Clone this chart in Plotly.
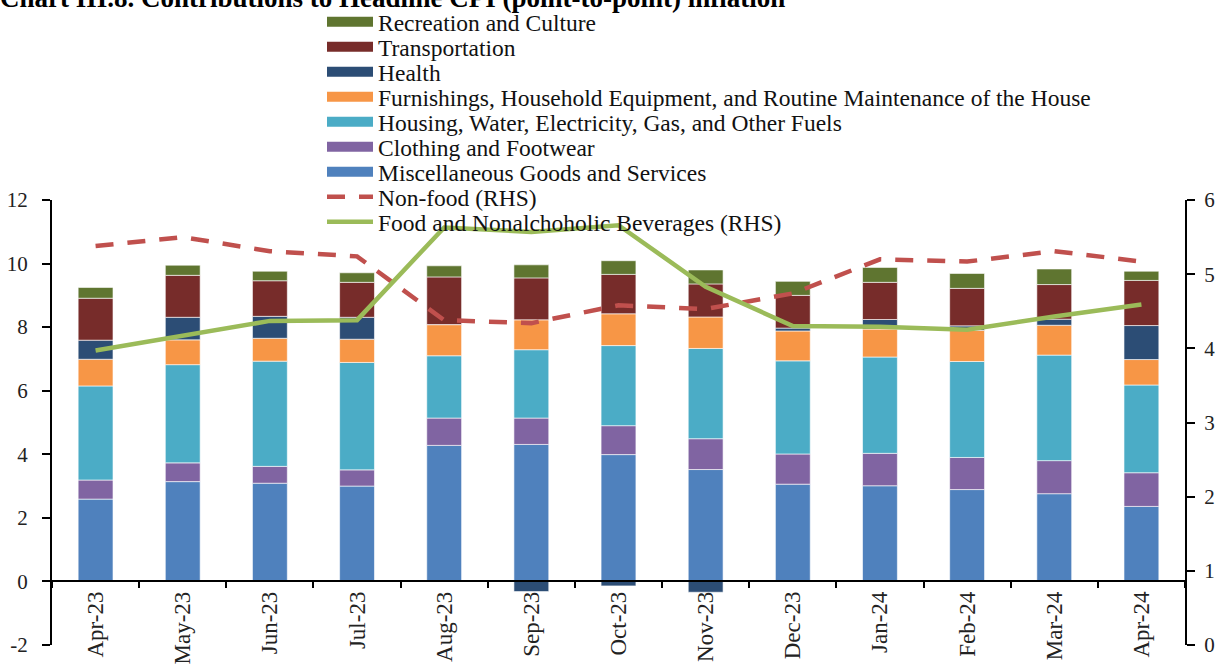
import plotly.graph_objects as go

months = ["Apr-23", "May-23", "Jun-23", "Jul-23", "Aug-23", "Sep-23", "Oct-23",
          "Nov-23", "Dec-23", "Jan-24", "Feb-24", "Mar-24", "Apr-24"]

misc = [2.59, 3.14, 3.09, 3.00, 4.28, 4.31, 3.99, 3.52, 3.06, 3.01, 2.89, 2.76, 2.36]
clothing = [0.60, 0.59, 0.53, 0.51, 0.86, 0.83, 0.91, 0.97, 0.95, 1.02, 1.01, 1.04, 1.06]
housing = [2.96, 3.09, 3.31, 3.38, 1.96, 2.15, 2.52, 2.84, 2.93, 3.03, 3.02, 3.32, 2.76]
furnishings = [0.84, 0.78, 0.72, 0.73, 0.98, 0.94, 1.00, 0.99, 0.94, 0.88, 0.98, 0.94, 0.80]
health = [0.60, 0.71, 0.69, 0.69, 0.00, -0.32, -0.14, -0.34, 0.09, 0.30, 0.14, 0.19, 1.07]
transport = [1.32, 1.32, 1.12, 1.10, 1.50, 1.32, 1.24, 1.04, 1.03, 1.17, 1.18, 1.09, 1.42]
recreation = [0.34, 0.32, 0.30, 0.30, 0.35, 0.41, 0.43, 0.44, 0.44, 0.47, 0.47, 0.49, 0.29]

non_food = [5.38, 5.50, 5.31, 5.24, 4.38, 4.34, 4.58, 4.53, 4.74, 5.20, 5.17, 5.31, 5.17]
food = [3.97, 4.17, 4.37, 4.38, 5.63, 5.57, 5.66, 4.83, 4.30, 4.29, 4.25, 4.43, 4.59]

left_ticks = [-2, 0, 2, 4, 6, 8, 10, 12]
left_tick_labels = ["-2", "0", "2", "4", "6", "8", "10", "12"]
right_ticks = [0, 1, 2, 3, 4, 5, 6]

title_text = "Chart III.8. Contributions to Headline CPI (point-to-point) inflation"

FONT = "Liberation Serif"

bar_series = [
    ("Miscellaneous Goods and Services", misc, "#4f81bd"),
    ("Clothing and Footwear", clothing, "#8064a2"),
    ("Housing, Water, Electricity, Gas, and Other Fuels", housing, "#4bacc6"),
    ("Furnishings, Household Equipment, and Routine Maintenance of the House", furnishings, "#f79646"),
    ("Health", health, "#2c4d75"),
    ("Transportation", transport, "#772c2a"),
    ("Recreation and Culture", recreation, "#5f7530"),
]

# legend order top to bottom
legend_order = ["Recreation and Culture", "Transportation", "Health",
                "Furnishings, Household Equipment, and Routine Maintenance of the House",
                "Housing, Water, Electricity, Gas, and Other Fuels",
                "Clothing and Footwear", "Miscellaneous Goods and Services",
                "Non-food (RHS)", "Food and Nonalchoholic Beverages (RHS)"]

W, H = 1215, 664
plot_top, plot_bottom = 200, 645
plot_left, plot_right = 52, 1185
ph = plot_bottom - plot_top
pw = plot_right - plot_left

def legend_name(name):
    i = legend_order.index(name)
    return "legend" if i == 0 else f"legend{i+1}"

fig = go.Figure()

for name, vals, color in bar_series:
    fig.add_trace(go.Bar(
        x=months, y=vals, name=name, marker_color=color,
        marker_line=dict(color="rgba(255,255,255,0.6)", width=1),
        legendgroup=name, showlegend=False,
    ))
    # legend proxy (wide rectangle symbol)
    fig.add_trace(go.Scatter(
        x=[None], y=[None], mode="lines", name=name,
        line=dict(color=color, width=12), legendgroup=name,
        legend=legend_name(name), showlegend=True,
    ))

fig.add_trace(go.Scatter(
    x=months, y=non_food, name="Non-food (RHS)", yaxis="y2", mode="lines",
    line=dict(color="#c0504d", width=4.5, dash="18px,14px"),
    legend=legend_name("Non-food (RHS)"),
))
fig.add_trace(go.Scatter(
    x=months, y=food, name="Food and Nonalchoholic Beverages (RHS)", yaxis="y2", mode="lines",
    line=dict(color="#9bbb59", width=4.5),
    legend=legend_name("Food and Nonalchoholic Beverages (RHS)"),
))

layout_legends = {}
legend_centers = [22, 47, 72, 97, 122, 147, 172, 197, 222]
for i, name in enumerate(legend_order):
    key = "legend" if i == 0 else f"legend{i+1}"
    layout_legends[key] = dict(
        xref="container", yref="container",
        x=322 / W, xanchor="left",
        y=1 - legend_centers[i] / H, yanchor="middle",
        bgcolor="rgba(0,0,0,0)", borderwidth=0,
        font=dict(family=FONT, size=23.5, color="#111"),
        itemwidth=46, tracegroupgap=0,
    )

axis_common = dict(
    showline=True, linecolor="black", linewidth=2, showgrid=False, zeroline=False,
    ticks="outside", ticklen=8, tickwidth=2, tickcolor="black", automargin=False,
    tickfont=dict(family=FONT, size=21, color="#222"),
)

fig.update_layout(
    width=W, height=H,
    margin=dict(l=plot_left, r=W - plot_right, t=plot_top, b=H - plot_bottom, pad=0, autoexpand=False),
    paper_bgcolor="white", plot_bgcolor="white",
    barmode="relative", bargap=0.6,
    xaxis=dict(
        type="category", anchor="free", position=2 / 14, automargin=False,
        showline=True, linecolor="black", linewidth=2, showgrid=False, zeroline=False,
        ticks="outside", tickson="boundaries", ticklen=6, tickwidth=2, tickcolor="black",
        tickangle=-90, tickfont=dict(family=FONT, size=23, color="#222"),
    ),
    yaxis=dict(range=[-2, 12], tickvals=left_ticks, ticktext=left_tick_labels,
               ticklabelstandoff=10, **axis_common),
    yaxis2=dict(range=[0, 6], tickvals=right_ticks, overlaying="y", side="right",
                ticklabelstandoff=5, **axis_common),
    annotations=[dict(
        text=f"<b>{title_text}</b>", xref="paper", yref="paper",
        x=(-2 - plot_left) / pw, xanchor="left",
        y=(plot_bottom - 15) / ph, yanchor="bottom", showarrow=False,
        font=dict(family=FONT, size=27, color="black"),
    )],
    **layout_legends,
)

fig.write_html(
    "out.html",
    config={"displayModeBar": False},
    post_script="document.body.style.margin='0';document.body.style.overflow='hidden';",
)
